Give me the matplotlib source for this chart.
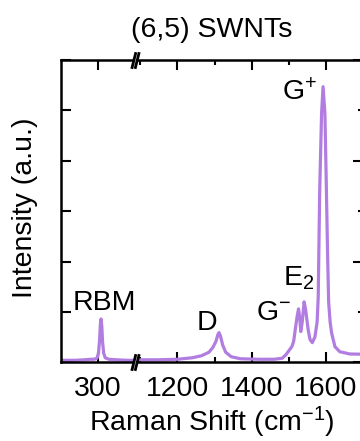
import numpy as np
import matplotlib
matplotlib.use("Agg")
import matplotlib.pyplot as plt
from matplotlib.path import Path
from matplotlib.ticker import MultipleLocator, FixedLocator

plt.rcParams['font.family'] = ['Liberation Sans', 'DejaVu Sans']
plt.rcParams['mathtext.default'] = 'regular'

# spectrum: low-frequency window (RBM)
low_shift = [200, 240, 265, 280, 290, 298, 302, 305, 307, 309, 311, 313, 316, 320, 330, 350, 380, 400]
low_int = [0.04, 0.04, 0.05, 0.06, 0.06, 0.08, 0.18, 0.45, 0.75, 0.86, 0.70, 0.40, 0.18, 0.09, 0.06, 0.05, 0.04, 0.04]

# high-frequency window (D, G-, E2, G+)
high_shift = [1086, 1150, 1200, 1240, 1265, 1285, 1296, 1304, 1309, 1312, 1316, 1322, 1330, 1345,
              1370, 1420, 1460, 1482, 1492, 1499, 1508, 1513, 1517, 1522, 1526, 1529, 1532, 1536,
              1541, 1545, 1552, 1557, 1563, 1570, 1576, 1579, 1583, 1588, 1592, 1597, 1601, 1604,
              1607, 1611, 1615, 1624, 1637, 1664, 1700]
high_int = [0.05, 0.05, 0.06, 0.09, 0.13, 0.20, 0.30, 0.42, 0.55, 0.59, 0.52, 0.34, 0.20, 0.11,
            0.07, 0.06, 0.06, 0.08, 0.15, 0.22, 0.31, 0.42, 0.64, 0.90, 1.06, 0.90, 0.61, 0.80,
            1.20, 1.05, 0.64, 0.45, 0.39, 0.50, 0.80, 1.30, 3.42, 4.94, 5.47, 4.94, 3.42, 2.20,
            1.20, 0.80, 0.58, 0.31, 0.21, 0.165, 0.16]

# peak labels: (text, shift, intensity)
peak_labels = [
    ('RBM', 319, 1.04),
    ('D', 1279, 0.64),
    ('G$^{-}$', 1460, 0.84),
    ('E$_2$', 1527, 1.53),
    ('G$^{+}$', 1530, 5.2),
]

COLOR = '#b17de0'
FS = 20.5
W, H = 360, 441

fig = plt.figure(figsize=(W / 100, H / 100), dpi=100)
bot = (H - 362.3) / H
hgt = (362.3 - 60) / H
ax1 = fig.add_axes([60.5 / W, bot, (135 - 60.5) / W, hgt])
ax2 = fig.add_axes([135 / W, bot, (363.2 - 135) / W, hgt], sharey=ax1)

ax1.plot(low_shift, low_int, color=COLOR, lw=2.3)
ax2.plot(high_shift, high_int, color=COLOR, lw=2.3)

ax1.set_xlim(200, 400)
ax2.set_xlim(1086, 1700)
ax1.set_ylim(0, 6)

for ax in (ax1, ax2):
    for sp in ax.spines.values():
        sp.set_linewidth(1.8)
ax1.spines['right'].set_visible(False)
ax2.spines['left'].set_visible(False)

ax1.xaxis.set_major_locator(FixedLocator([300]))
ax2.xaxis.set_major_locator(MultipleLocator(200))
ax2.xaxis.set_minor_locator(MultipleLocator(100))
ax1.yaxis.set_major_locator(MultipleLocator(1))
ax2.yaxis.set_major_locator(MultipleLocator(2))
ax2.yaxis.set_minor_locator(MultipleLocator(1))

ax1.tick_params(which='both', direction='in', top=True, left=True, right=False,
                labelleft=False, labelsize=FS, width=1.5, length=7, pad=10)
ax2.tick_params(which='both', direction='in', top=True, left=False, right=True,
                labelleft=False, labelright=False, labelsize=FS, width=1.5, pad=10)
ax2.tick_params(which='major', length=7)
ax2.tick_params(which='minor', length=3.6)

# break marks "//" on top and bottom axis
slash = Path([(-0.9, -2), (0.1, 2), (-0.1, -2), (0.9, 2)],
             [Path.MOVETO, Path.LINETO, Path.MOVETO, Path.LINETO])
gap = Path([(-0.5, -2), (0.5, 2)])
for yy in (0, 1):
    ax2.plot([0], [yy], transform=ax2.transAxes, marker=gap, markersize=12,
             mew=3, color='white', clip_on=False, zorder=5)
    ax2.plot([0], [yy], transform=ax2.transAxes, marker=slash, markersize=12,
             mew=2, color='black', clip_on=False, zorder=6)

for text, xv, yv in peak_labels:
    ax = ax1 if xv < 1000 else ax2
    ax.text(xv, yv, text, ha='center', va='baseline', fontsize=FS)

fig.text(212 / W, 1 - 37 / H, '(6,5) SWNTs', ha='center', va='baseline', fontsize=FS)
fig.text(211.5 / W, 1 - 431 / H, 'Raman Shift (cm$^{-1}$)', ha='center', va='baseline', fontsize=FS)
fig.text(25 / W, 1 - 208 / H, 'Intensity (a.u.)', ha='center', va='center',
         rotation=90, fontsize=FS)

fig.savefig('out.png', dpi=100)
